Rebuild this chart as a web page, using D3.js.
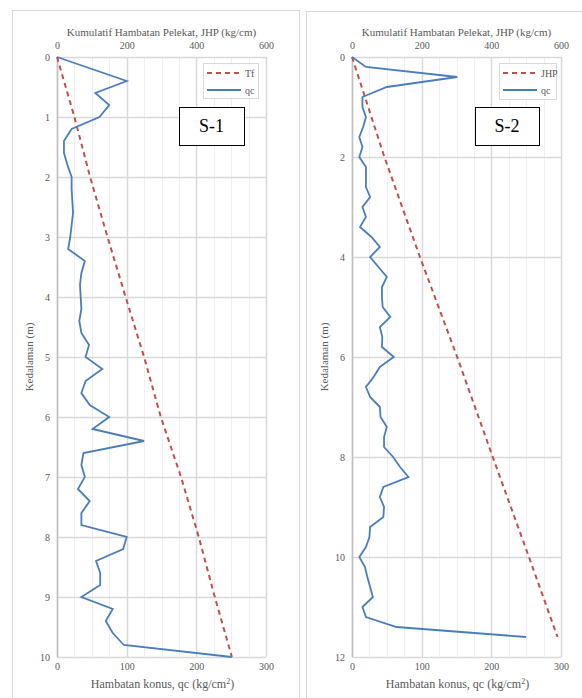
<!DOCTYPE html>
<html>
<head>
<meta charset="utf-8">
<script src="https://cdn.jsdelivr.net/npm/d3@7"></script>
<style>
  html, body { margin: 0; padding: 0; background: #fff; }
  svg { display: block; }
  text { font-family: "Liberation Serif", "Times New Roman", serif; }
</style>
</head>
<body>
<svg id="chart" width="582" height="698"></svg>
<script>
// ---------- DATA ----------
// S-1
const s1Depth = [0,0.4,0.6,0.8,1.0,1.2,1.4,1.6,1.8,2.0,2.2,2.4,2.6,2.8,3.0,3.2,3.4,3.6,3.8,4.0,4.2,4.4,4.6,4.8,5.0,5.2,5.4,5.6,5.8,6.0,6.2,6.4,6.6,6.8,7.0,7.2,7.4,7.6,7.8,8.0,8.2,8.4,8.6,8.8,9.0,9.2,9.4,9.6,9.8,10.0];
const s1Qc    = [0,100,55,75,61,21,10,10,15,21,21,22,23,21,19,16,40,35,33,34,35,32,35,46,41,65,41,35,47,75,51,125,38,35,40,30,47,35,35,100,95,56,62,62,35,80,70,80,96,251];
const s1TfDepth = [0,1,2,3,4,5,6,7,8,9,10];
const s1Tf      = [0,50,95,145,197,250,298,356,407,453,502];
// S-2
const s2Depth = [0,0.2,0.4,0.6,0.8,1.0,1.2,1.4,1.6,1.8,2.0,2.2,2.4,2.6,2.8,3.0,3.2,3.4,3.6,3.8,4.0,4.2,4.4,4.6,4.8,5.0,5.2,5.4,5.6,5.8,6.0,6.2,6.4,6.6,6.8,7.0,7.2,7.4,7.6,7.8,8.0,8.2,8.4,8.6,8.8,9.0,9.2,9.4,9.6,9.8,10.0,10.2,10.4,10.6,10.8,11.0,11.2,11.4,11.6];
const s2Qc    = [0,20,151,50,15,15,20,16,10.5,15,10.5,20,20,20,26,15,20,11.5,28,40,26,38,50,43,43,44,55,40,43.5,43,60,40,31,20,26,40,41,50,46,46,59,69,81,45,40,46,45,26,25,20,10.5,18.7,22,26,30,15,20,64,250];
const s2JhpDepth = [0,2,4,6,8,10,11.6];
const s2Jhp      = [0,93,195,302,404,508,590];

// ticks / labels
const qcTicks  = [0,100,200,300];
const jhpTicks = [0,200,400,600];
const s1DepthTicks = [0,1,2,3,4,5,6,7,8,9,10];
const s2DepthTicks = [0,2,4,6,8,10,12];
const topTitle = "Kumulatif Hambatan Pelekat, JHP (kg/cm)";
const yTitle = "Kedalaman (m)";

// ---------- DRAW ----------
const svg = d3.select("#chart");
const gray = "#595959";
const blue = "#4a7ebb";
const red = "#c0504d";

function panel(cfg) {
  const g = svg.append("g");
  // outer frame
  g.append("rect").attr("x", cfg.frame[0] + 0.5).attr("y", cfg.frame[1] + 0.5)
    .attr("width", cfg.frame[2]).attr("height", cfg.frame[3])
    .attr("fill", "#fff").attr("stroke", "#d9d9d9").attr("stroke-width", 1);

  const x = d3.scaleLinear().domain([0, 300]).range([cfg.px0, cfg.px1]);
  const x2 = d3.scaleLinear().domain([0, 600]).range([cfg.px0, cfg.px1]);
  const y = d3.scaleLinear().domain([0, cfg.dMax]).range([cfg.py0, cfg.py1]);

  // vertical grid (every 25 qc)
  const vg = d3.range(0, 301, 25);
  g.append("g").selectAll("line").data(vg).join("line")
    .attr("x1", d => Math.round(x(d)) + 0.5).attr("x2", d => Math.round(x(d)) + 0.5)
    .attr("y1", cfg.py0).attr("y2", cfg.py1)
    .attr("stroke", d => d % 100 === 0 ? "#d9d9d9" : "#efefef")
    .attr("stroke-width", d => d % 100 === 0 ? 1.5 : 1);
  // horizontal grid
  g.append("g").selectAll("line").data(cfg.depthTicks).join("line")
    .attr("x1", cfg.px0).attr("x2", cfg.px1)
    .attr("y1", d => Math.round(y(d)) + 0.5).attr("y2", d => Math.round(y(d)) + 0.5)
    .attr("stroke", "#d9d9d9").attr("stroke-width", 1.5);
  // left axis line
  g.append("line").attr("x1", cfg.px0 + 0.5).attr("x2", cfg.px0 + 0.5)
    .attr("y1", cfg.py0).attr("y2", cfg.py1).attr("stroke", "#bfbfbf").attr("stroke-width", 1.5);

  // axes labels via d3 axes
  const axTop = g.append("g").attr("transform", `translate(0,${cfg.py0 - 8})`)
    .call(d3.axisTop(x2).tickValues(jhpTicks).tickSize(0).tickPadding(0));
  const axBot = g.append("g").attr("transform", `translate(0,${cfg.py1 + 6})`)
    .call(d3.axisBottom(x).tickValues(qcTicks).tickSize(0).tickPadding(0));
  const axLeft = g.append("g").attr("transform", `translate(${cfg.px0 - 7},0)`)
    .call(d3.axisLeft(y).tickValues(cfg.depthTicks).tickSize(0).tickPadding(0));
  [axTop, axBot, axLeft].forEach(a => {
    a.select(".domain").remove();
    a.selectAll("text").attr("fill", gray).attr("font-size", 10)
      .style("font-family", '"Liberation Serif", serif');
  });

  // titles
  g.append("text").attr("x", (cfg.px0 + cfg.px1) / 2).attr("y", cfg.py0 - 21)
    .attr("text-anchor", "middle").attr("font-size", 11).attr("fill", gray).text(topTitle);
  const bt = g.append("text").attr("x", (cfg.px0 + cfg.px1) / 2 + 1).attr("y", cfg.py1 + 31)
    .attr("text-anchor", "middle").attr("font-size", 12).attr("fill", gray);
  bt.append("tspan").text("Hambatan konus, qc (kg/cm");
  bt.append("tspan").attr("font-size", 8).attr("dy", -4).text("2");
  bt.append("tspan").attr("dy", 4).text(")");
  g.append("text").attr("transform", `translate(${cfg.yTitleX},${(cfg.py0 + cfg.py1) / 2}) rotate(-90)`)
    .attr("text-anchor", "middle").attr("font-size", 11).attr("fill", gray).text(yTitle);

  // lines
  const clip = "clip" + cfg.id;
  g.append("clipPath").attr("id", clip).append("rect")
    .attr("x", cfg.px0 - 3).attr("y", cfg.py0 - 3).attr("width", cfg.px1 - cfg.px0 + 6).attr("height", cfg.py1 - cfg.py0 + 6);

  const tfLine = d3.line().x(d => x2(d[1])).y(d => y(d[0]));
  g.append("path").datum(d3.zip(cfg.tfDepth, cfg.tf))
    .attr("d", tfLine).attr("fill", "none").attr("stroke", red)
    .attr("stroke-width", 2).attr("stroke-dasharray", "5,4");

  const qcLine = d3.line().x(d => x(d[1])).y(d => y(d[0]));
  g.append("path").datum(d3.zip(cfg.depth, cfg.qc))
    .attr("d", qcLine).attr("fill", "none").attr("stroke", blue)
    .attr("stroke-width", 1.8).attr("stroke-linejoin", "miter");

  // legend
  const L = cfg.legend;
  const lg = g.append("g");
  lg.append("rect").attr("x", L[0] + 0.5).attr("y", L[1] + 0.5).attr("width", L[2]).attr("height", L[3])
    .attr("fill", "#fff").attr("stroke", "#d9d9d9");
  const ly1 = L[1] + 10, ly2 = L[1] + 27;
  lg.append("line").attr("x1", L[0] + 4).attr("x2", L[0] + 38).attr("y1", ly1).attr("y2", ly1)
    .attr("stroke", red).attr("stroke-width", 2).attr("stroke-dasharray", "5,4");
  lg.append("line").attr("x1", L[0] + 4).attr("x2", L[0] + 38).attr("y1", ly2).attr("y2", ly2)
    .attr("stroke", blue).attr("stroke-width", 1.8);
  lg.append("text").attr("x", L[0] + 42).attr("y", ly1 + 3.5).attr("font-size", 10).attr("fill", gray).text(cfg.tfName);
  lg.append("text").attr("x", L[0] + 42).attr("y", ly2 + 3.5).attr("font-size", 10).attr("fill", gray).text("qc");

  // site label box
  const B = cfg.box;
  g.append("rect").attr("x", B[0] + 0.5).attr("y", B[1] + 0.5).attr("width", B[2]).attr("height", B[3])
    .attr("fill", "#fff").attr("stroke", "#000").attr("stroke-width", 1);
  g.append("text").attr("x", B[0] + B[2] / 2).attr("y", B[1] + B[3] / 2 + 6)
    .attr("text-anchor", "middle").attr("font-size", 18).attr("fill", "#000").text(cfg.name);
}

panel({
  id: 1, frame: [12, 10, 287, 720], px0: 57, px1: 266, py0: 57, py1: 657, dMax: 10,
  depthTicks: s1DepthTicks, depth: s1Depth, qc: s1Qc, tfDepth: s1TfDepth, tf: s1Tf,
  tfName: "Tf", legend: [203, 63, 55, 35], box: [179, 107, 65, 38], name: "S-1", yTitleX: 33
});
panel({
  id: 2, frame: [306, 11, 300, 720], px0: 352, px1: 561, py0: 57, py1: 657, dMax: 12,
  depthTicks: s2DepthTicks, depth: s2Depth, qc: s2Qc, tfDepth: s2JhpDepth, tf: s2Jhp,
  tfName: "JHP", legend: [499, 63, 57, 36], box: [475, 107, 64, 38], name: "S-2", yTitleX: 328
});
</script>
</body>
</html>
